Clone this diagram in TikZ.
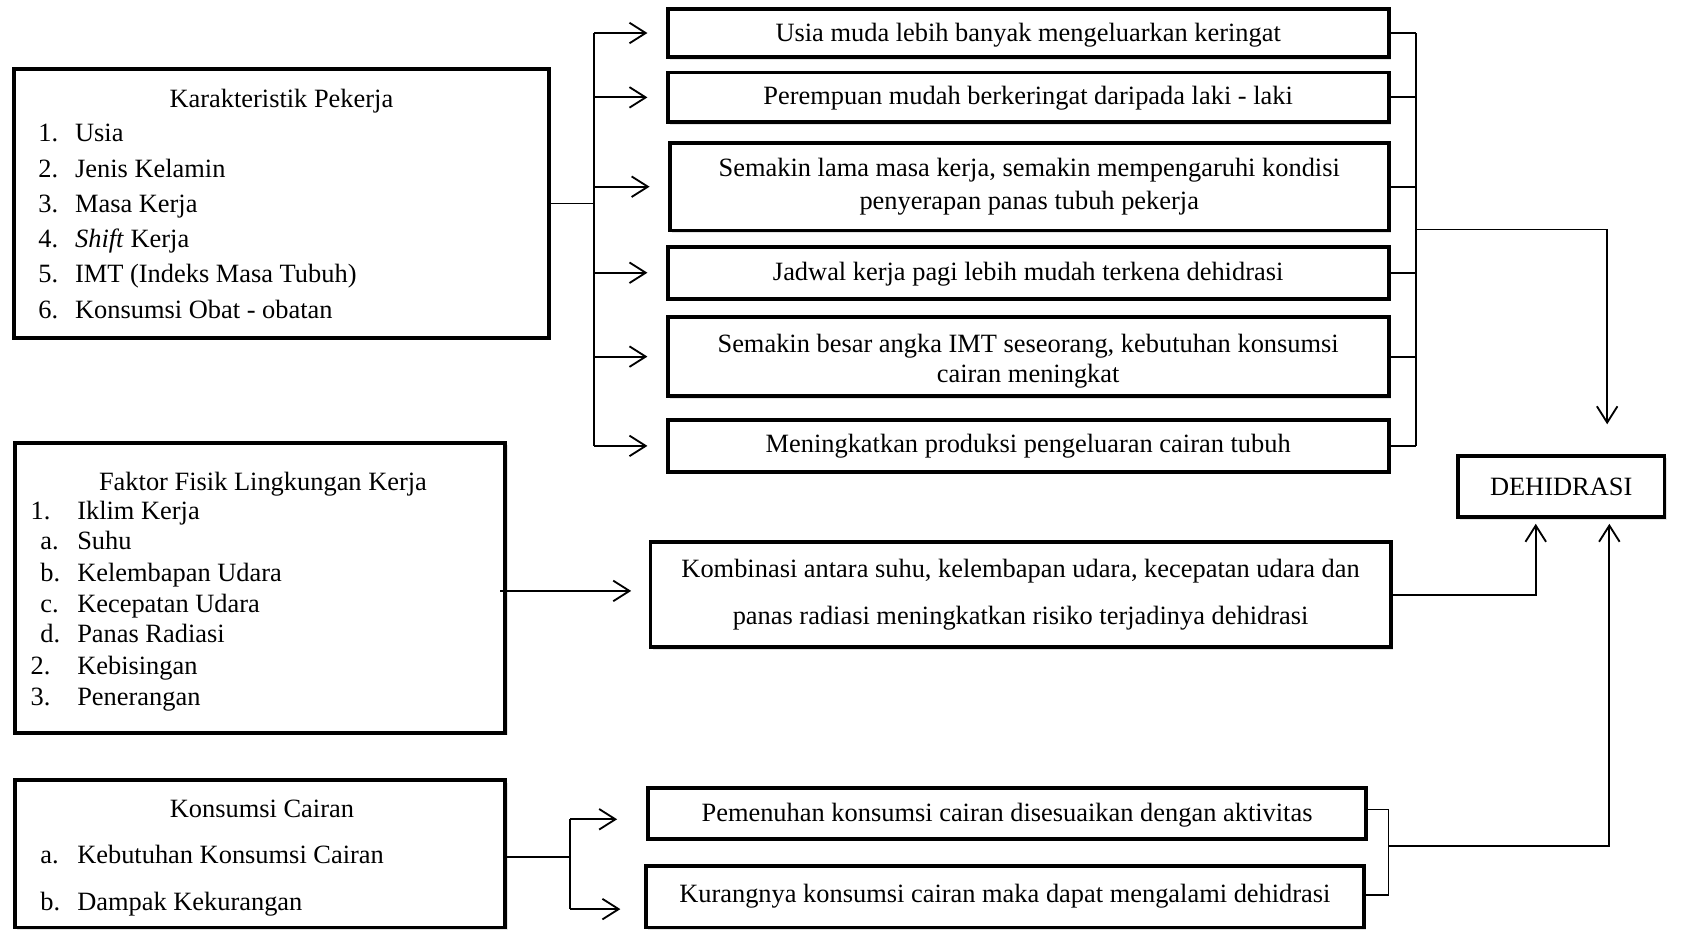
\documentclass[tikz,border=0pt]{standalone}
\usepackage{fontspec}
\setmainfont{Liberation Serif}
\usetikzlibrary{arrows.meta,fit,calc,shadows}
\newcommand\fsz{\fontsize{12.2bp}{15bp}\selectfont}
\begin{document}
\begin{tikzpicture}[x=0.5bp,y=-0.5bp,
  box/.style={draw,line width=1.8bp,inner sep=0pt,fill=white,
    drop shadow={shadow xshift=1bp,shadow yshift=-1.2bp,opacity=0.22}},
  btxt/.style={inner sep=0pt,font=\fsz,align=center},
  txt/.style={inner sep=0pt,anchor=base west,font=\fsz},
  ttl/.style={inner sep=0pt,anchor=base,font=\fsz},
  ln/.style={line width=0.85bp},
  arr/.style={ln,-{Straight Barb[length=7.5bp,width=9.5bp]}}]
\useasboundingbox (0,0) rectangle (1568,859);

% left boxes
\node[box,fit={(13,64)(507,312)}] (KP) {};
\node[ttl] (KPt) at (260,99) {Karakteristik Pekerja};
\node[txt] (KP1) at (35,131) {\makebox[17bp][l]{1.}Usia};
\node[txt] (KP2) at (35,164) {\makebox[17bp][l]{2.}Jenis Kelamin};
\node[txt] (KP3) at (35,196) {\makebox[17bp][l]{3.}Masa Kerja};
\node[txt] (KP4) at (35,229) {\makebox[17bp][l]{4.}\textit{Shift} Kerja};
\node[txt] (KP5) at (35,261) {\makebox[17bp][l]{5.}IMT (Indeks Masa Tubuh)};
\node[txt] (KP6) at (35,294) {\makebox[17bp][l]{6.}Konsumsi Obat - obatan};

\node[box,fit={(14,409)(467,677)}] (F) {};
\node[ttl] (Ft) at (243,453) {Faktor Fisik Lingkungan Kerja};
\node[txt] (F1) at (28,480) {\makebox[21.5bp][l]{1.}Iklim Kerja};
\node[txt] (Fa) at (37,508) {\makebox[17bp][l]{a.}Suhu};
\node[txt] (Fb) at (37,537) {\makebox[17bp][l]{b.}Kelembapan Udara};
\node[txt] (Fc) at (37,566) {\makebox[17bp][l]{c.}Kecepatan Udara};
\node[txt] (Fd) at (37,594) {\makebox[17bp][l]{d.}Panas Radiasi};
\node[txt] (F2) at (28,623) {\makebox[21.5bp][l]{2.}Kebisingan};
\node[txt] (F3) at (28,652) {\makebox[21.5bp][l]{3.}Penerangan};

\node[box,fit={(14,721)(467,857)}] (KC) {};
\node[ttl] (KCt) at (242,755) {Konsumsi Cairan};
\node[txt] (KCa) at (37,798) {\makebox[17bp][l]{a.}Kebutuhan Konsumsi Cairan};
\node[txt] (KCb) at (37,841) {\makebox[17bp][l]{b.}Dampak Kekurangan};

% right boxes
\node[box,fit={(617,8)(1283,53)}] (R1) {};
\node[btxt] (R1t) at ([yshift=-1.2bp]R1.center) {Usia muda lebih banyak mengeluarkan keringat};
\node[box,fit={(617,67)(1283,113)}] (R2) {};
\node[btxt] (R2t) at ([yshift=-0.5bp]R2.center) {Perempuan mudah berkeringat daripada laki - laki};
\node[box,fit={(619,132)(1283,213)}] (R3) {};
\node[btxt] (R3t) at (R3.center) {Semakin lama masa kerja, semakin mempengaruhi kondisi\\penyerapan panas tubuh pekerja};
\node[box,fit={(617,228)(1283,276)}] (R4) {};
\node[btxt] (R4t) at ([yshift=-0.5bp]R4.center) {Jadwal kerja pagi lebih mudah terkena dehidrasi};
\node[box,fit={(617,293)(1283,366)}] (R5) {};
\node[btxt] (R5t) at ([yshift=-2.2bp]R5.center) {Semakin besar angka IMT seseorang, kebutuhan konsumsi\\[-1bp]cairan meningkat};
\node[box,fit={(617,388)(1283,436)}] (R6) {};
\node[btxt] (R6t) at (R6.center) {Meningkatkan produksi pengeluaran cairan tubuh};

\node[box,fit={(601,501)(1285,598)}] (Kb) {};
\node[btxt] (Kbt) at (Kb.center) {Kombinasi antara suhu, kelembapan udara, kecepatan udara dan\\[6.5bp]panas radiasi meningkatkan risiko terjadinya dehidrasi};

\node[box,fit={(599,728)(1262,775)}] (P) {};
\node[btxt] (Pt) at ([yshift=-1bp]P.center) {Pemenuhan konsumsi cairan disesuaikan dengan aktivitas};
\node[box,fit={(597,800)(1260,857)}] (Ku) {};
\node[btxt] (Kut) at (Ku.center) {Kurangnya konsumsi cairan maka dapat mengalami dehidrasi};

\node[box,fit={(1347,421)(1538,478)}] (D) {};
\node[btxt] (Dt) at (D.center) {DEHIDRASI};

% bus 1
\coordinate (b1t) at (549,30.5);
\coordinate (b1b) at (549,412);
\draw[ln] (KP.east) -- (KP.east -| b1t);
\draw[ln] (b1t) -- (b1b);
\foreach \r in {R1,R2,R3,R4,R5,R6}
  \draw[arr,shorten >=8.5bp] (\r.west -| b1t) -- (\r.west);

% bus 2
\coordinate (b2t) at (1308,30.5);
\coordinate (b2b) at (1308,412);
\coordinate (b2m) at (1308,212);
\coordinate (dT) at (1485,421);
\foreach \r in {R1,R2,R3,R4,R5,R6}
  \draw[ln] (\r.east) -- (\r.east -| b2t);
\draw[ln] (b2t) -- (b2b);
\draw[arr,shorten >=14.5bp] (b2m) -| (dT);

% faktor
\coordinate (fs) at (462,546);
\draw[arr,shorten >=8bp] (fs) -- (fs -| Kb.west);
\coordinate (dA) at (1419,478);
\draw[arr,shorten >=3bp] (Kb.east) -| (dA);

% konsumsi
\coordinate (b3t) at (527,757);
\coordinate (b3b) at (527,840);
\coordinate (b3m) at (527,792);
\draw[ln] (KC.east |- b3m) -- (b3m);
\draw[ln] (b3t) -- (b3b);
\draw[arr,shorten >=13.5bp] (b3t) -- (b3t -| P.west);
\draw[arr,shorten >=11bp] (b3b) -- (b3b -| Ku.west);

\coordinate (b4t) at (1283,748);
\coordinate (b4b) at (1283,827);
\coordinate (b4m) at (1283,782);
\coordinate (dB) at (1487,478);
\draw[ln] (P.east |- b4t) -- (b4t);
\draw[ln] (Ku.east |- b4b) -- (b4b);
\draw[ln] (b4t) -- (b4b);
\draw[arr,shorten >=3bp] (b4m) -| (dB);
\end{tikzpicture}
\end{document}
